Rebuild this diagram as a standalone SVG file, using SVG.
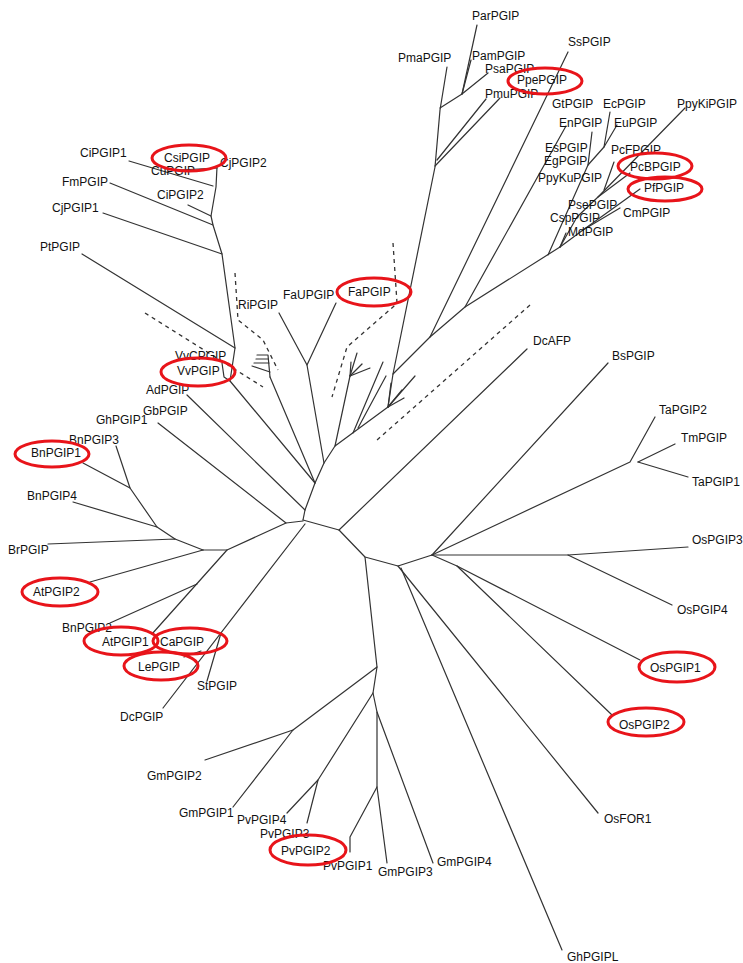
<svg xmlns="http://www.w3.org/2000/svg" width="743" height="963" viewBox="0 0 743 963">
<style>
.b{fill:none;stroke:#333;stroke-width:1.2;stroke-linecap:round;stroke-linejoin:round}
.d{fill:none;stroke:#333;stroke-width:1.3;stroke-dasharray:4,4}
.h{fill:none;stroke:#e8141a;stroke-width:3}
text{font-family:"Liberation Sans",Arial,sans-serif;font-size:12px;fill:#111}
</style>
<rect width="743" height="963" fill="#fff"/>
<g id="connectors">
<!-- backbone -->
<polyline class="b" points="303,520 339,530 365,557 398,566 432,555"/>
<polyline class="b" points="339,530 527,349"/>
<polyline class="b" points="303,520 305,510 315,483 324,463 307,365 279,313"/>
<polyline class="b" points="307,365 336,303"/>
<polyline class="b" points="324,463 335,446 388,407 393,374 435,167 440,110 447,67"/>
<polyline class="b" points="335,446 350,376 351,362"/>
<polyline class="b" points="350,376 357,353"/>
<polyline class="b" points="350,376 362,364"/>
<polyline class="b" points="350,376 370,368"/>
<polyline class="b" points="353,433 383,362"/>
<polyline class="b" points="358,428 386,376"/>
<polyline class="b" points="388,407 391,383"/>
<polyline class="b" points="388,407 402,390"/>
<polyline class="b" points="388,407 404,398"/>
<polyline class="b" points="388,407 415,376"/>
<!-- Prunus -->
<polyline class="b" points="440,108 462,94 477,25"/>
<polyline class="b" points="462,94 471,60"/>
<polyline class="b" points="462,94 488,73"/>
<polyline class="b" points="437,160 486,99"/>
<polyline class="b" points="435,166 500,98"/>
<!-- Ss and Rosaceae/Myrtaceae -->
<polyline class="b" points="393,374 430,337 568,52"/>
<polyline class="b" points="430,337 465,307 560,247"/>
<polyline class="b" points="465,307 566,126"/>
<polyline class="b" points="548,255 588,165 592,132"/>
<polyline class="b" points="588,165 604,147 610,112"/>
<polyline class="b" points="604,147 617,125"/>
<polyline class="b" points="560,247 566,233"/>
<polyline class="b" points="560,247 583,230 620,208"/>
<polyline class="b" points="583,230 640,189"/>
<polyline class="b" points="560,247 577,217 598,197 630,173"/>
<polyline class="b" points="598,197 685,108"/>
<polyline class="b" points="604,190 614,162"/>
<!-- Citrus / Vitis clade -->
<polyline class="b" points="217,167 216,187 211,216 213,225 222,254 235,348 230,381"/>
<polyline class="b" points="129,161 213,186"/>
<polyline class="b" points="180,170 217,168"/>
<polyline class="b" points="110,183 213,225"/>
<polyline class="b" points="188,205 211,216"/>
<polyline class="b" points="103,213 222,254"/>
<polyline class="b" points="82,254 235,348"/>
<polyline class="b" points="222,363 224,377 230,381 315,483"/>
<polyline class="b" points="187,395 305,510"/>
<polyline class="b" points="270,377 315,483"/>
<polyline class="b" points="270,377 268,355 257,355"/>
<polyline class="b" points="268,359 256,359"/>
<polyline class="b" points="269,363 254,363"/>
<polyline class="b" points="270,372 252,366"/>
<!-- left clades -->
<polyline class="b" points="303,521 286,523 158,423"/>
<polyline class="b" points="286,523 227,550 203,550"/>
<polyline class="b" points="203,550 175,539 48,544"/>
<polyline class="b" points="175,539 157,527 73,502"/>
<polyline class="b" points="157,527 130,488 83,463"/>
<polyline class="b" points="130,488 116,446"/>
<polyline class="b" points="203,550 90,582"/>
<polyline class="b" points="227,550 152,634"/>
<polyline class="b" points="197,584 110,623"/>
<polyline class="b" points="305,524 163,708"/>
<polyline class="b" points="221,633 207,681"/>
<polyline class="b" points="201,651 184,657"/>
<!-- lower clade -->
<polyline class="b" points="365,557 377,667 373,693 377,712 377,787 387,863"/>
<polyline class="b" points="377,667 293,730 205,760"/>
<polyline class="b" points="293,730 233,807"/>
<polyline class="b" points="373,693 318,780 287,813"/>
<polyline class="b" points="318,780 307,823"/>
<polyline class="b" points="377,787 350,837 350,852"/>
<polyline class="b" points="377,712 433,863"/>
<!-- right clades -->
<polyline class="b" points="398,566 598,813"/>
<polyline class="b" points="401,568 562,950"/>
<polyline class="b" points="432,555 608,363"/>
<polyline class="b" points="432,555 630,462 655,417"/>
<polyline class="b" points="638,462 675,444"/>
<polyline class="b" points="638,462 688,477"/>
<polyline class="b" points="432,555 568,555 688,547"/>
<polyline class="b" points="568,555 672,605"/>
<polyline class="b" points="432,555 457,566 640,660"/>
<polyline class="b" points="457,566 612,715"/>
<!-- dashed clade markers -->
<polyline class="d" points="145,313 263,387"/>
<polyline class="d" points="235,273 238,320 263,340 278,370"/>
<polyline class="d" points="393,243 397,303 393,307 347,347 332,397"/>
<polyline class="d" points="530,305 377,440"/>
</g>
<g id="labels">
<text x="472" y="20">ParPGIP</text>
<text x="568" y="46">SsPGIP</text>
<text x="398" y="62">PmaPGIP</text>
<text x="472" y="60">PamPGIP</text>
<text x="485" y="73">PsaPGIP</text>
<text x="517" y="84">PpePGIP</text>
<text x="485" y="98">PmuPGIP</text>
<text x="552" y="108">GtPGIP</text>
<text x="603" y="108">EcPGIP</text>
<text x="677" y="108">PpyKiPGIP</text>
<text x="559" y="127">EnPGIP</text>
<text x="614" y="127">EuPGIP</text>
<text x="545" y="152">EsPGIP</text>
<text x="611" y="154">PcFPGIP</text>
<text x="544" y="165">EgPGIP</text>
<text x="630" y="171">PcBPGIP</text>
<text x="538" y="182">PpyKuPGIP</text>
<text x="644" y="192">PfPGIP</text>
<text x="568" y="209">PsePGIP</text>
<text x="623" y="217">CmPGIP</text>
<text x="550" y="222">CspPGIP</text>
<text x="568" y="236">MdPGIP</text>
<text x="80" y="157">CiPGIP1</text>
<text x="164" y="162">CsiPGIP</text>
<text x="220" y="167">CjPGIP2</text>
<text x="151" y="175">CuPGIP</text>
<text x="62" y="186">FmPGIP</text>
<text x="157" y="199">CiPGIP2</text>
<text x="52" y="212">CjPGIP1</text>
<text x="40" y="251">PtPGIP</text>
<text x="238" y="309">RiPGIP</text>
<text x="283" y="299">FaUPGIP</text>
<text x="348" y="296">FaPGIP</text>
<text x="175" y="360">VvCPGIP</text>
<text x="177" y="375">VvPGIP</text>
<text x="146" y="394">AdPGIP</text>
<text x="143" y="415">GbPGIP</text>
<text x="96" y="424">GhPGIP1</text>
<text x="69" y="444">BnPGIP3</text>
<text x="31" y="457">BnPGIP1</text>
<text x="27" y="500">BnPGIP4</text>
<text x="8" y="554">BrPGIP</text>
<text x="33" y="596">AtPGIP2</text>
<text x="62" y="632">BnPGIP2</text>
<text x="102" y="646">AtPGIP1</text>
<text x="160" y="646">CaPGIP</text>
<text x="138" y="671">LePGIP</text>
<text x="197" y="690">StPGIP</text>
<text x="120" y="721">DcPGIP</text>
<text x="147" y="780">GmPGIP2</text>
<text x="179" y="817">GmPGIP1</text>
<text x="237" y="824">PvPGIP4</text>
<text x="260" y="838">PvPGIP3</text>
<text x="281" y="855">PvPGIP2</text>
<text x="323" y="870">PvPGIP1</text>
<text x="378" y="876">GmPGIP3</text>
<text x="437" y="866">GmPGIP4</text>
<text x="567" y="961">GhPGIPL</text>
<text x="604" y="823">OsFOR1</text>
<text x="533" y="345">DcAFP</text>
<text x="612" y="360">BsPGIP</text>
<text x="659" y="414">TaPGIP2</text>
<text x="681" y="442">TmPGIP</text>
<text x="692" y="486">TaPGIP1</text>
<text x="692" y="544">OsPGIP3</text>
<text x="677" y="614">OsPGIP4</text>
<text x="650" y="672">OsPGIP1</text>
<text x="619" y="729">OsPGIP2</text>
</g>
<g id="highlights">
<ellipse class="h" cx="545" cy="81" rx="37" ry="13"/>
<ellipse class="h" cx="655" cy="166" rx="37" ry="13"/>
<ellipse class="h" cx="665" cy="189" rx="37" ry="12"/>
<ellipse class="h" cx="189" cy="158" rx="37" ry="13"/>
<ellipse class="h" cx="374" cy="292" rx="37" ry="14"/>
<ellipse class="h" cx="198" cy="372" rx="37" ry="14"/>
<ellipse class="h" cx="52" cy="454" rx="37" ry="13"/>
<ellipse class="h" cx="60" cy="592" rx="38" ry="14"/>
<ellipse class="h" cx="121" cy="641" rx="37" ry="14"/>
<ellipse class="h" cx="190" cy="641" rx="37" ry="13"/>
<ellipse class="h" cx="161" cy="666" rx="37" ry="14"/>
<ellipse class="h" cx="308" cy="850" rx="38" ry="15"/>
<ellipse class="h" cx="677" cy="667" rx="38" ry="15"/>
<ellipse class="h" cx="646" cy="722" rx="38" ry="14"/>
</g>
</svg>
